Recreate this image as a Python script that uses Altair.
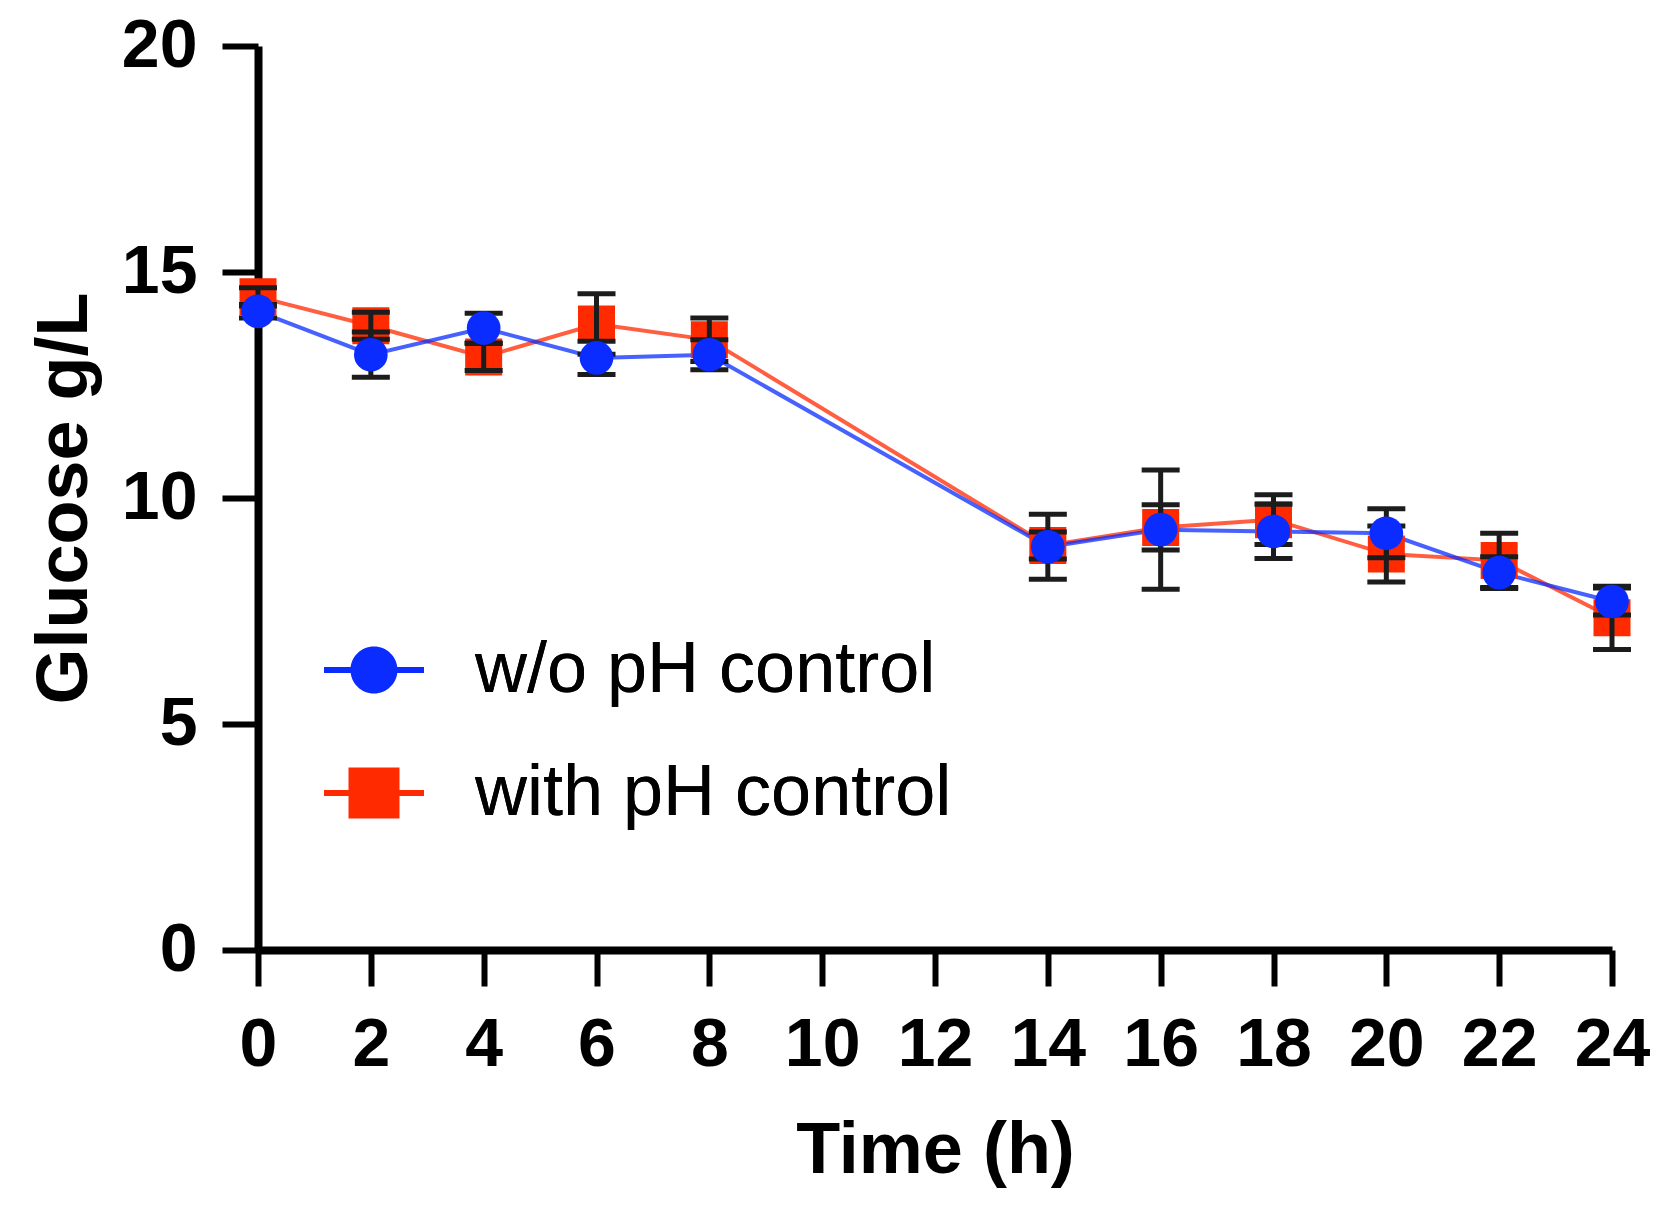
import altair as alt
import pandas as pd

# ---- data ----
time_h = [0, 2, 4, 6, 8, 14, 16, 18, 20, 22, 24]
series_names = ["w/o pH control", "with pH control"]
glucose_without = [14.13, 13.17, 13.76, 13.10, 13.17, 8.92, 9.30, 9.26, 9.22, 8.35, 7.71]
sd_without = [0.15, 0.50, 0.33, 0.37, 0.33, 0.72, 1.32, 0.60, 0.54, 0.35, 0.30]
glucose_with = [14.45, 13.81, 13.12, 13.85, 13.50, 8.95, 9.35, 9.52, 8.76, 8.62, 7.35]
sd_with = [0.20, 0.30, 0.30, 0.67, 0.48, 0.30, 0.50, 0.55, 0.62, 0.60, 0.70]
x_ticks = [0, 2, 4, 6, 8, 10, 12, 14, 16, 18, 20, 22, 24]
y_ticks = [0, 5, 10, 15, 20]
colors = ["#0A2CFF", "#FF2A00"]

rows = []
for name, vals, sds in zip(series_names, [glucose_without, glucose_with], [sd_without, sd_with]):
    for t, v, s in zip(time_h, vals, sds):
        rows.append({"series": name, "series_b": name, "series_r": name,
                     "time": t, "glucose": v, "lo": v - s, "hi": v + s})
df = pd.DataFrame(rows)

FONT = "Liberation Sans"

xscale = alt.Scale(domain=[0, 24], nice=False, zero=False)
yscale = alt.Scale(domain=[0, 20], nice=False)
xaxis = alt.Axis(values=x_ticks, title="Time (h)", labelFlush=False, titlePadding=36)
yaxis = alt.Axis(values=y_ticks, title="Glucose g/L", titlePadding=20)

circle_path = "M-2,-0.12H2V0.12H-2Z M0.94,0A0.94,0.94,0,1,1,-0.94,0A0.94,0.94,0,1,1,0.94,0Z"
square_path = "M-2,-0.12H2V0.12H-2Z M-1.02,-1.02H1.02V1.02H-1.02Z"


def legend_for(path, ly):
    return alt.Legend(
        orient="none", legendX=80, legendY=ly, title=None,
        symbolType=path, symbolSize=2500, symbolStrokeWidth=0, symbolOpacity=1,
        labelFontSize=72, labelFont=FONT, labelColor="black", labelFontWeight="normal",
        labelOffset=65, labelLimit=1200, padding=0,
    )


blue_color = alt.Color(
    "series_b:N", scale=alt.Scale(domain=[series_names[0]], range=[colors[0]]),
    legend=legend_for(circle_path, 588),
)
red_color = alt.Color(
    "series_r:N", scale=alt.Scale(domain=[series_names[1]], range=[colors[1]]),
    legend=legend_for(square_path, 711),
)


def X(field="time"):
    return alt.X(f"{field}:Q", scale=xscale, axis=xaxis)


def Y(field):
    return alt.Y(f"{field}:Q", scale=yscale, axis=yaxis)


base = alt.Chart(df)
blue = base.transform_filter(alt.datum.series == series_names[0])
red = base.transform_filter(alt.datum.series == series_names[1])

red_line = red.mark_line(strokeWidth=4, opacity=0.75).encode(x=X(), y=Y("glucose"), color=red_color)
blue_line = blue.mark_line(strokeWidth=4, opacity=0.75).encode(x=X(), y=Y("glucose"), color=blue_color)
red_pts = red.mark_point(shape="square", filled=True, opacity=1, size=1369, strokeWidth=0).encode(
    x=X(), y=Y("glucose"), color=red_color)
blue_pts = blue.mark_point(shape="circle", filled=True, opacity=1, size=1134, strokeWidth=0).encode(
    x=X(), y=Y("glucose"), color=blue_color)

err_rule = base.mark_rule(strokeWidth=5, color="#1c1c1c").encode(x=X(), y=Y("lo"), y2="hi:Q")
cap_lo = base.mark_tick(orient="horizontal", thickness=5, size=38, color="#1c1c1c", opacity=1).encode(
    x=X(), y=Y("lo"))
cap_hi = base.mark_tick(orient="horizontal", thickness=5, size=38, color="#1c1c1c", opacity=1).encode(
    x=X(), y=Y("hi"))

chart = alt.layer(
    red_line, blue_line, red_pts, err_rule, cap_lo, cap_hi, blue_pts
).resolve_scale(color="independent").resolve_legend(color="independent").properties(
    width=1354, height=904,
    autosize=alt.AutoSizeParams(type="none"),
    padding={"left": 250, "top": 38, "right": 51, "bottom": 257},
    background="white",
).configure_view(stroke=None).configure_axis(
    grid=False,
    domainColor="black", domainWidth=8,
    tickColor="black", tickWidth=6, tickSize=36,
    labelFont=FONT, labelFontSize=68, labelFontWeight="bold", labelColor="black",
    labelPadding=25,
    titleFont=FONT, titleFontSize=72, titleFontWeight="bold", titleColor="black",
)

chart.save("out.html", embed_options={"renderer": "svg", "actions": False})
